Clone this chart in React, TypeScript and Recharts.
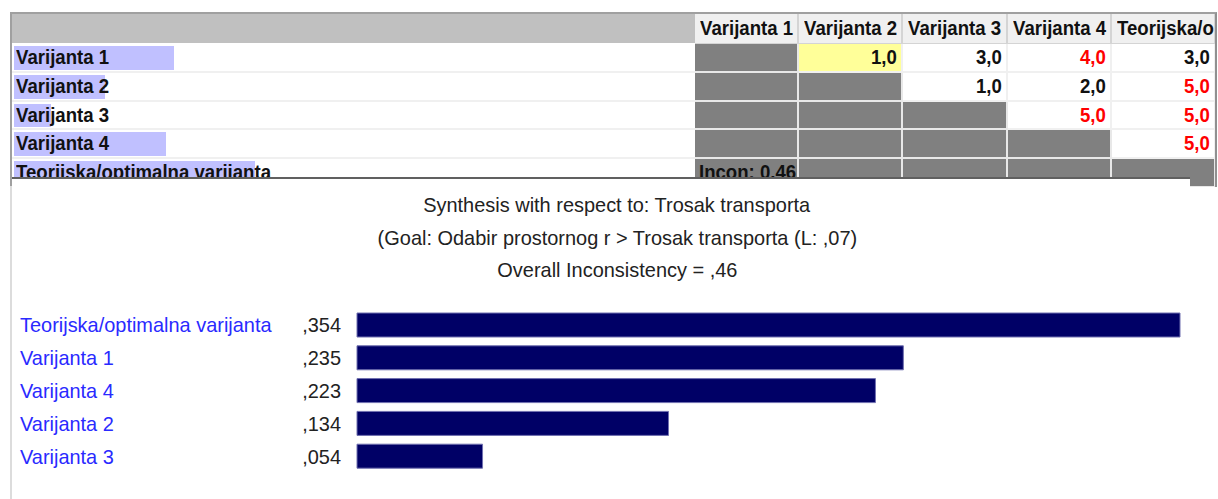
import { BarChart, Bar, XAxis, YAxis } from 'recharts'

const alternatives = ['Teorijska/optimalna varijanta', 'Varijanta 1', 'Varijanta 4', 'Varijanta 2', 'Varijanta 3']
const priorities = [0.354, 0.235, 0.223, 0.134, 0.054]

const matrixRows = ['Varijanta 1', 'Varijanta 2', 'Varijanta 3', 'Varijanta 4', 'Teorijska/optimalna varijanta']
const matrixCols = ['Varijanta 1', 'Varijanta 2', 'Varijanta 3', 'Varijanta 4', 'Teorijska/o']
const rowPriorities = [0.235, 0.134, 0.054, 0.223, 0.354]
const comparisons = [[1.0, 3.0, 4.0, 3.0], [1.0, 2.0, 5.0], [5.0, 5.0], [5.0]]
const inverted = [[false, false, true, false], [false, false, true], [true, true], [true]]
const inconsistency = 0.46

const titleLines = [
  'Synthesis with respect to: Trosak transporta',
  '(Goal: Odabir prostornog r > Trosak transporta (L: ,07)',
  'Overall Inconsistency = ,46',
]

const chartData = alternatives.map((name, i) => ({ name, value: priorities[i] }))

const font = "'Liberation Sans', Arial, sans-serif"
const colEdges = [695, 799, 903, 1008, 1112, 1216]
const rowTop = 44
const rowH = 28.8

const fmt = (v: number) => v.toFixed(3).replace(/^0\./, ',')
const fmt1 = (v: number) => v.toFixed(1).replace('.', ',')

// squeeze text horizontally, the original uses a narrow bitmap font
function Sq({ children, sx, origin }: { children: any; sx: number; origin: string }) {
  return <span style={{ display: 'inline-block', transform: `scaleX(${sx})`, transformOrigin: origin }}>{children}</span>
}

function AltTick(props: any) {
  const { y, payload } = props
  const idx = alternatives.indexOf(payload.value)
  return (
    <g>
      <g transform={`translate(20,${y + 7}) scale(0.95,1)`}>
        <text x={0} y={0} fill="#2a2aff" fontSize={21} fontFamily={font}>
          {payload.value}
        </text>
      </g>
      <g transform={`translate(341,${y + 7}) scale(0.95,1)`}>
        <text x={0} y={0} textAnchor="end" fill="#222" fontSize={21} fontFamily={font}>
          {fmt(priorities[idx])}
        </text>
      </g>
    </g>
  )
}

function Matrix() {
  const cells: any[] = []
  const txt = { fontFamily: font, fontWeight: 'bold' as const, fontSize: 20, color: '#111', whiteSpace: 'nowrap' as const }
  cells.push(
    <div key="hdr" style={{ position: 'absolute', left: 12, top: 14, width: 683, height: 29, background: '#c0c0c0' }} />
  )
  matrixCols.forEach((c, j) => {
    cells.push(
      <div
        key={'h' + j}
        style={{
          ...txt, position: 'absolute', left: colEdges[j], top: 14, width: colEdges[j + 1] - colEdges[j], height: 30,
          background: '#f0f0f0', borderRight: '2px solid #d4d4d4', borderBottom: '1px solid #d4d4d4',
          lineHeight: '29px', paddingLeft: 5, boxSizing: 'border-box', overflow: 'hidden',
        }}
      >
        <Sq sx={0.93} origin="left">{c}</Sq>
      </div>
    )
  })
  matrixRows.forEach((r, i) => {
    const top = rowTop + i * rowH
    cells.push(
      <div key={'rl' + i} style={{ position: 'absolute', left: 12, top, width: 683, height: rowH, background: '#fff', borderBottom: '2px solid #f0f0f0', boxSizing: 'border-box' }}>
        <div style={{ position: 'absolute', left: 2, top: 2, width: rowPriorities[i] * 680, height: rowH - 5, background: '#c0c0ff' }} />
        <div style={{ ...txt, position: 'absolute', left: 4, top: 0, lineHeight: rowH - 1 + 'px' }}>
          <Sq sx={0.93} origin="left">{r}</Sq>
        </div>
      </div>
    )
    matrixCols.forEach((_, j) => {
      const rel = j - i - 1
      const isValue = rel >= 0 && i < comparisons.length
      const isYellow = i === 0 && j === 1
      const bg = isValue ? (isYellow ? '#ffff99' : '#fff') : '#808080'
      const text = isValue ? fmt1(comparisons[i][rel]) : i === matrixRows.length - 1 && j === 0 ? 'Incon: ' + inconsistency.toFixed(2).replace('.', ',') : ''
      const color = isValue && inverted[i][rel] ? '#ff0000' : '#111'
      cells.push(
        <div
          key={'c' + i + '-' + j}
          style={{
            ...txt, position: 'absolute', left: colEdges[j], top, width: colEdges[j + 1] - colEdges[j], height: rowH,
            background: bg, borderRight: '2px solid ' + (isValue ? '#f0f0f0' : '#e8e8e8'), borderBottom: '2px solid ' + (isValue ? '#f0f0f0' : '#e8e8e8'),
            boxSizing: 'border-box', lineHeight: rowH - 1 + 'px',
            textAlign: isValue ? 'right' : 'left', paddingRight: 4, paddingLeft: 4, color, overflow: 'hidden',
          }}
        >
          <Sq sx={0.93} origin={isValue ? 'right' : 'left'}>{text}</Sq>
        </div>
      )
    })
  })
  return (
    <div style={{ position: 'absolute', left: 10, top: 12, width: 1207, height: 175, borderTop: '2px solid #a0a0a0', borderLeft: '2px solid #a0a0a0', borderRight: '2px solid #909090', boxSizing: 'border-box', overflow: 'hidden', background: '#fff' }}>
      <div style={{ position: 'absolute', left: -12, top: -14 }}>{cells}</div>
    </div>
  )
}

export default function App() {
  return (
    <div style={{ position: 'absolute', left: 0, top: 0, width: 1218, height: 499, background: '#fff', overflow: 'hidden' }}>
      <Matrix />
      <div style={{ position: 'absolute', left: 10, top: 186, width: 2, height: 313, background: '#dcdcdc' }} />
      <div style={{ position: 'absolute', left: 12, top: 176.5, width: 1178, height: 323, background: '#fff', borderTop: '2px solid #606060', boxSizing: 'border-box' }} />
      {titleLines.map((t, i) => (
        <div
          key={i}
          style={{ position: 'absolute', left: 0, width: 1234, top: 193 + i * 32.5, textAlign: 'center', fontFamily: font, fontSize: 21, lineHeight: '24px', color: '#222', whiteSpace: 'nowrap' }}
        >
          <Sq sx={0.95} origin="center">{t}</Sq>
        </div>
      ))}
      <div style={{ position: 'absolute', left: 0, top: 300 }}>
        <BarChart width={1218} height={180} data={chartData} layout="vertical" margin={{ top: 9, right: 38, bottom: 7, left: 0 }}>
          <XAxis type="number" domain={[0, 0.354]} hide />
          <YAxis type="category" dataKey="name" width={357} axisLine={false} tickLine={false} tick={<AltTick />} interval={0} />
          <Bar dataKey="value" fill="#000066" stroke="#7070b0" strokeWidth={1} barSize={24} isAnimationActive={false} />
        </BarChart>
      </div>
    </div>
  )
}
